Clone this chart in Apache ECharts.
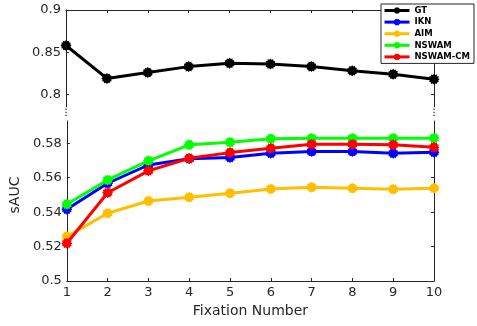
<!DOCTYPE html>
<html>
<head>
<meta charset="utf-8">
<script src="https://cdn.jsdelivr.net/npm/echarts@6/dist/echarts.min.js"></script>
<style>html,body{margin:0;padding:0;background:#fff}#c{width:477px;height:326px}</style>
</head>
<body>
<div id="c"></div>
<script>
const xValues = [1, 2, 3, 4, 5, 6, 7, 8, 9, 10];
const seriesNames = ['GT', 'IKN', 'AIM', 'NSWAM', 'NSWAM-CM'];
const gt      = [0.858, 0.819, 0.826, 0.833, 0.837, 0.836, 0.833, 0.828, 0.824, 0.818];
const ikn     = [0.5417, 0.5568, 0.5674, 0.5710, 0.5717, 0.5742, 0.5752, 0.5752, 0.5742, 0.5748];
const aim     = [0.5258, 0.5394, 0.5465, 0.5487, 0.5510, 0.5535, 0.5545, 0.5539, 0.5533, 0.5539];
const nswam   = [0.5446, 0.5587, 0.5698, 0.5791, 0.5806, 0.5826, 0.5830, 0.5830, 0.5830, 0.5830];
const nswamCm = [0.5219, 0.5513, 0.5640, 0.5713, 0.5746, 0.5771, 0.5795, 0.5795, 0.5791, 0.5777];
const upperTicks = [0.8, 0.85, 0.9];
const lowerTicks = [0.5, 0.52, 0.54, 0.56, 0.58];
const xTicks = [1, 2, 3, 4, 5, 6, 7, 8, 9, 10];

const colors = ['#000000', '#0000ff', '#ffbf00', '#00ff00', '#ff0000'];
const font = 'DejaVu Sans';
const axisColor = '#262626';

// spiky marker (MATLAB '*' + 'o' look)
function starPath(n, rIn) {
  let d = '';
  for (let i = 0; i < 2 * n; i++) {
    const r = i % 2 === 0 ? 1 : rIn;
    const a = Math.PI * i / n;
    const x = (50 + 50 * r * Math.cos(a)).toFixed(2);
    const y = (50 + 50 * r * Math.sin(a)).toFixed(2);
    d += (i === 0 ? 'M' : 'L') + x + ' ' + y + ' ';
  }
  return 'path://' + d + 'Z';
}
const marker = starPath(12, 0.8);

const chart = echarts.init(document.getElementById('c'), null, {renderer: 'canvas'});

const L = 66, R = 43, T1 = 10, H1 = 97, T2 = 121, H2 = 160;
const upMin = 0.9 - H1 / 845, loMax = 0.5 + H2 / 1721;

function xAx(grid, pos, labels, name) {
  return {
    type: 'value', gridIndex: grid, position: pos, min: 1, max: 10, interval: 1,
    axisLine: {show: true, lineStyle: {color: axisColor, width: 1}},
    axisTick: {show: true, inside: true, length: 3, lineStyle: {color: axisColor}},
    axisLabel: {show: labels, color: axisColor, fontFamily: font, fontSize: 13, margin: 5,
      customValues: xTicks},
    splitLine: {show: false},
    name: name || '', nameLocation: 'middle', nameGap: 23,
    nameTextStyle: {color: axisColor, fontFamily: font, fontSize: 14}
  };
}
function yAx(grid, pos, labels, min, max, ticks, name) {
  return {
    type: 'value', gridIndex: grid, position: pos, min: min, max: max,
    axisLine: {show: true, lineStyle: {color: axisColor, width: 1}},
    axisTick: {show: true, inside: true, length: 3, lineStyle: {color: axisColor}, customValues: ticks},
    axisLabel: {show: labels, color: axisColor, fontFamily: font, fontSize: 13, margin: 5, customValues: ticks},
    splitLine: {show: false},
    name: name || '', nameLocation: 'middle', nameGap: 39,
    nameTextStyle: {color: axisColor, fontFamily: font, fontSize: 14, padding: [0, 0, 0, 12]}
  };
}

const data = [gt, ikn, aim, nswam, nswamCm];
const series = data.map((arr, i) => ({
  name: seriesNames[i], type: 'line',
  xAxisIndex: i === 0 ? 0 : 1, yAxisIndex: i === 0 ? 0 : 2,
  data: xValues.map((x, j) => [x, arr[j]]),
  symbol: marker, symbolSize: 11,
  showAllSymbol: true,
  lineStyle: {color: colors[i], width: 3},
  itemStyle: {color: colors[i], borderWidth: 0},
  emphasis: {disabled: true},
  clip: false,
  z: 2 + i
}));

function dots(x) {
  return [109.3, 112.3, 115.3].map(y => ({
    type: 'rect', shape: {x: x - 0.5, y: y - 0.6, width: 1.2, height: 1.4},
    style: {fill: axisColor}, z: 10
  }));
}

chart.setOption({
  animation: false,
  backgroundColor: '#ffffff',
  color: colors,
  grid: [
    {left: L, right: R, top: T1, height: H1},
    {left: L, right: R, top: T2, height: H2}
  ],
  xAxis: [
    xAx(0, 'top', false),
    xAx(1, 'bottom', true, 'Fixation Number')
  ],
  yAxis: [
    yAx(0, 'left', true, upMin, 0.9, upperTicks),
    yAx(0, 'right', false, upMin, 0.9, upperTicks),
    yAx(1, 'left', true, 0.5, loMax, lowerTicks, 'sAUC'),
    yAx(1, 'right', false, 0.5, loMax, lowerTicks)
  ],
  legend: {
    data: seriesNames,
    orient: 'vertical', left: 381, top: 4,
    itemWidth: 25, itemHeight: 9, itemGap: 2.6,
    padding: [2, 4, 2, 2],
    lineStyle: {width: 3},
    backgroundColor: '#ffffff', borderColor: '#262626', borderWidth: 1, borderRadius: 0,
    textStyle: {fontFamily: font, fontSize: 8.5, fontWeight: 'bold', color: '#000'},
    z: 20
  },
  graphic: dots(L).concat(dots(477 - R)),
  series: series
});
</script>
</body>
</html>
